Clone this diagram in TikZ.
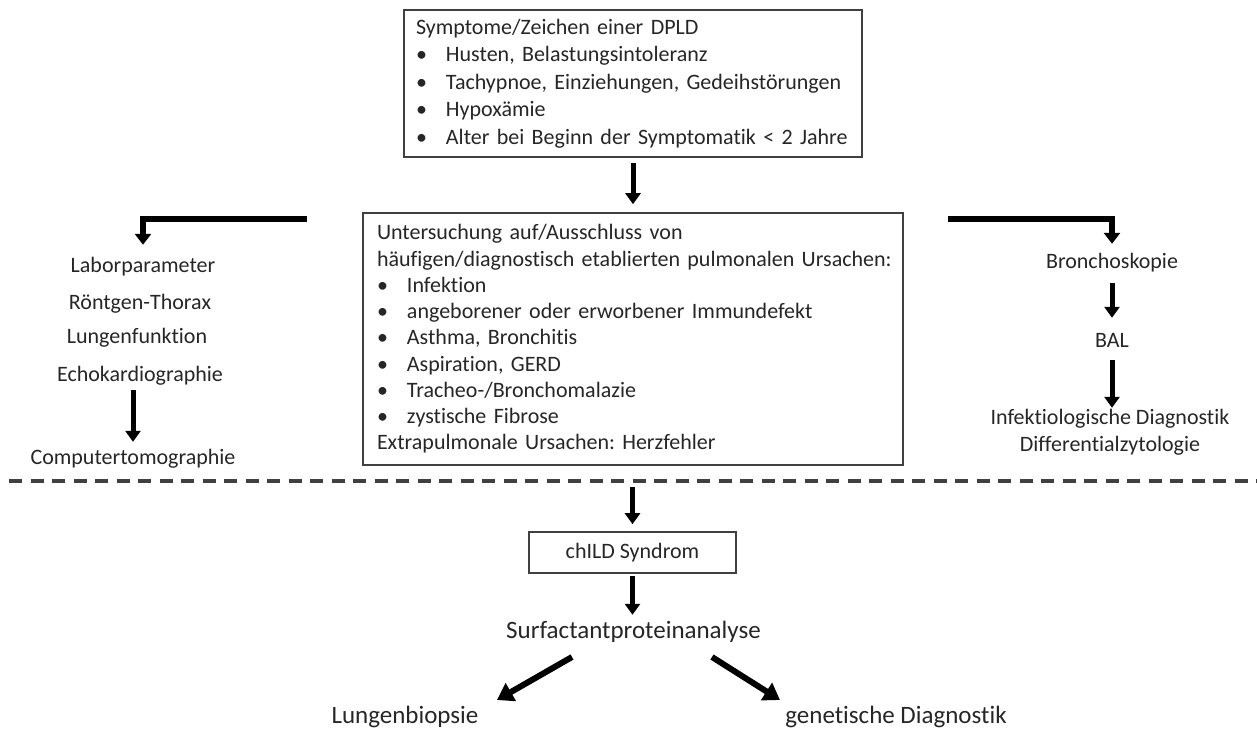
\documentclass[tikz,border=0pt]{standalone}
\usepackage{fontspec}
\setmainfont{Carlito}[Ligatures=NoCommon]
\usetikzlibrary{arrows.meta}

\newcommand{\itm}{\makebox[30pt][l]{\textbullet}}
\frenchspacing

\begin{document}
\begin{tikzpicture}[x=1pt, y=-1pt,
  every node/.style={font=\fontsize{22}{26.5}\selectfont, text=black!85},
  box/.style={draw=black!75, line width=1.6pt, inner ysep=0pt, align=left},
  plain/.style={inner sep=0pt, text height=15pt, text depth=5pt, align=center},
  big/.style={plain, font=\fontsize{25}{30}\selectfont},
  arr/.style={line width=5pt, -{Triangle[width=15pt,length=11pt]}},
  elbow/.style={line width=6.5pt, line join=miter, -{Triangle[width=16pt,length=11pt]}},
  fork/.style={line width=6pt, -{Triangle[width=20pt,length=16pt]}},
  cut/.style={draw=black!75, line width=4pt, dash pattern=on 13pt off 8.5pt}]
\useasboundingbox (0,0) rectangle (1257,730);
% boxes
\node[box, text width=434pt, inner xsep=12pt, minimum height=147pt, font=\fontsize{22}{27.5}\selectfont] (sympt) at (633,83.5) {Symptome/Zeichen einer DPLD\\
\itm Husten, Belastungsintoleranz\\
\itm Tachypnoe, Einziehungen, Gedeihstörungen\\
\itm Hypoxämie\\
\itm Alter bei Beginn der Symptomatik < 2 Jahre};
\node[box, text width=512pt, inner xsep=14pt, minimum height=252pt, font=\fontsize{22}{26.25}\selectfont] (causes) at (633,339) {Untersuchung auf/Ausschluss von\\
\mbox{häufigen/diagnostisch etablierten pulmonalen Ursachen:}\\
\itm Infektion\\
\itm angeborener oder erworbener Immundefekt\\
\itm Asthma, Bronchitis\\
\itm Aspiration, GERD\\
\itm Tracheo-/Bronchomalazie\\
\itm zystische Fibrose\\
Extrapulmonale Ursachen: Herzfehler};
\node[box, align=center, minimum width=207pt, minimum height=41pt] (child) at (632.5,552.5) {chILD Syndrom};
% left column
\node[plain] (labor) at (143,267) {Laborparameter};
\node[plain] (roent) at (140,304) {Röntgen-Thorax};
\node[plain] (lufu) at (137,338) {Lungenfunktion};
\node[plain] (echo) at (140,376) {Echokardiographie};
\node[plain] (ct) at (133,459) {Computertomographie};
% right column
\node[plain] (bronch) at (1112,263) {Bronchoskopie};
\node[plain] (bal) at (1112,342) {BAL};
\node[plain] (infekt) at (1110,446) {Infektiologische Diagnostik\\ Differentialzytologie};
% bottom
\node[big] (surf) at (633.5,633) {Surfactantproteinanalyse};
\node[big] (lung) at (405,718) {Lungenbiopsie};
\node[big] (gen) at (896,718) {genetische Diagnostik};
\coordinate (lfrom) at (307,219);
\coordinate (rfrom) at (948,219);
\coordinate (dashL) at (9,481);
\coordinate (dashR) at (1257,481);

\draw[cut] (dashL) -- (dashR);
\draw[arr, shorten <=5pt, shorten >=8pt] (sympt.south) -- (sympt.south |- causes.north);
\draw[elbow, shorten >=12pt] (lfrom) -| (labor.north);
\draw[elbow, shorten >=9pt] (rfrom) -| (bronch.north);
\draw[arr, shorten <=4pt, shorten >=7pt] (ct.north |- echo.south) -- (ct.north);
\draw[arr, shorten <=10pt, shorten >=14pt] (bronch.south) -- (bal.north);
\draw[arr, shorten <=8pt, shorten >=28pt] (bal.south) -- (bal.south |- infekt.north);
\draw[arr, shorten <=6pt, shorten >=7pt] (dashL -| child.north) -- (child.north);
\draw[arr, shorten <=2pt, shorten >=8pt] (child.south) -- (child.south |- surf.north);
\draw[fork] ([shift={(-61.5,24)}]surf.center) -- ([shift={(92,-18)}]lung.center);
\draw[fork] ([shift={(78.5,24)}]surf.center) -- ([shift={(-116,-18)}]gen.center);
\end{tikzpicture}
\end{document}
